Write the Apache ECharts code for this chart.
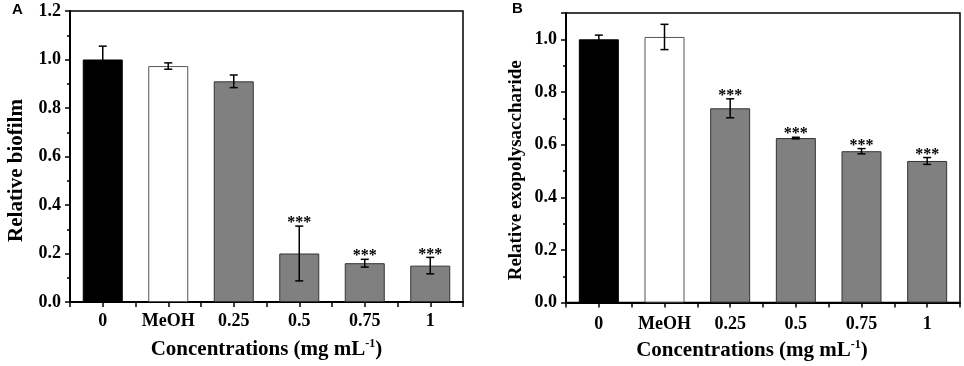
<!DOCTYPE html>
<html>
<head>
<meta charset="utf-8">
<script src="https://cdn.jsdelivr.net/npm/echarts@6/dist/echarts.min.js"></script>
<style>html,body{margin:0;padding:0;background:#fff;}#c{width:964px;height:366px;}</style>
</head>
<body>
<div id="c"></div>
<script>
const categories = ['0', 'MeOH', '0.25', '0.5', '0.75', '1'];
const biofilm = [1.0, 0.973, 0.91, 0.2, 0.16, 0.15];
const biofilmErr = [0.055, 0.013, 0.026, 0.113, 0.016, 0.034];
const biofilmSig = ['', '', '', '***', '***', '***'];
const eps = [1.0, 1.009, 0.738, 0.625, 0.575, 0.538];
const epsErr = [0.016, 0.048, 0.036, 0.003, 0.01, 0.013];
const epsSig = ['', '', '***', '***', '***', '***'];
const yTicksA = [0, 0.2, 0.4, 0.6, 0.8, 1.0, 1.2];
const yTicksB = [0, 0.2, 0.4, 0.6, 0.8, 1.0];

const SERIF = '"Liberation Serif", "Times New Roman", serif';
const barColors = ['#000000', '#ffffff', '#808080', '#808080', '#808080', '#808080'];
const barBorders = ['#000000', '#555555', '#333333', '#333333', '#333333', '#333333'];

function barData(vals) {
  return vals.map((v, i) => ({
    value: v,
    itemStyle: { color: barColors[i], borderColor: barBorders[i], borderWidth: 1 }
  }));
}
function errData(vals, errs) {
  return vals.map((v, i) => [i, v, errs[i]]);
}
function errRender(sigArr) {
  return function (params, api) {
    const i = api.value(0), v = api.value(1), e = api.value(2);
    const sig = sigArr[params.dataIndex];
    const top = api.coord([i, v + e]);
    const bot = api.coord([i, v - e]);
    const cap = 4;
    const st = { stroke: '#000', lineWidth: 1.5 };
    const children = [
      { type: 'line', shape: { x1: top[0], y1: top[1], x2: bot[0], y2: bot[1] }, style: st },
      { type: 'line', shape: { x1: top[0] - cap, y1: top[1], x2: top[0] + cap, y2: top[1] }, style: st },
      { type: 'line', shape: { x1: bot[0] - cap, y1: bot[1], x2: bot[0] + cap, y2: bot[1] }, style: st }
    ];
    if (sig) {
      children.push({ type: 'text', style: { x: top[0], y: top[1] + 5, text: sig, fill: '#000',
        font: 'bold 16px ' + SERIF, align: 'center', verticalAlign: 'bottom' } });
    }
    return { type: 'group', children };
  };
}

function makeX(gridIndex, withLabels, namePadRight, labelMargin, nameGap) {
  return {
    type: 'category', gridIndex, data: categories, position: 'bottom',
    axisLine: { show: withLabels, lineStyle: { color: '#000', width: 2 } },
    axisTick: { show: true, alignWithLabel: withLabels, length: 5, lineStyle: { color: '#000', width: 1.5 } },
    axisLabel: { show: withLabels, interval: 0, color: '#000', fontFamily: SERIF, fontWeight: 'bold', fontSize: 18, margin: labelMargin },
    name: withLabels ? '{a|Concentrations (mg mL}{s|-1}{a|)}' : '',
    nameLocation: 'middle', nameGap: nameGap,
    nameTextStyle: { padding: [0, namePadRight, 0, 0], rich: {
      a: { fontFamily: SERIF, fontWeight: 'bold', fontSize: 21, color: '#000' },
      s: { fontFamily: SERIF, fontWeight: 'bold', fontSize: 12, color: '#000', verticalAlign: 'top', padding: [0, 0, 12, 0] }
    } },
    splitLine: { show: false }
  };
}
function makeY(gridIndex, max, name, gap, fs, padR) {
  return {
    type: 'value', gridIndex, min: 0, max, interval: 0.2,
    axisLine: { show: true, lineStyle: { color: '#000', width: 2 } },
    axisTick: { show: true, length: 5, lineStyle: { color: '#000', width: 1.5 } },
    minorTick: { show: true, splitNumber: 2, length: 3, lineStyle: { color: '#000', width: 1.5 } },
    axisLabel: { color: '#000', fontFamily: SERIF, fontWeight: 'bold', fontSize: 18, margin: 9,
      showMaxLabel: max > 1.15, formatter: v => (v > 1.05 && max < 1.15) ? '' : v.toFixed(1) },
    splitLine: { show: false },
    name, nameLocation: 'middle', nameGap: gap,
    nameTextStyle: { fontFamily: SERIF, fontWeight: 'bold', fontSize: fs, color: '#000', padding: [0, padR, 0, 0] }
  };
}

const chart = echarts.init(document.getElementById('c'), null, { renderer: 'canvas' });
chart.setOption({
  animation: false,
  backgroundColor: '#fff',
  grid: [
    { left: 70, top: 11, width: 393, height: 291, show: true, borderColor: '#000', borderWidth: 1.5, backgroundColor: 'transparent' },
    { left: 566, top: 13, width: 394, height: 293, show: true, borderColor: '#000', borderWidth: 1.5, backgroundColor: 'transparent' }
  ],
  graphic: [
    { type: 'text', left: 12, top: 2, style: { text: 'A', font: 'bold 15px "Liberation Sans", Arial, sans-serif', fill: '#000' } },
    { type: 'text', left: 512, top: 1, style: { text: 'B', font: 'bold 15px "Liberation Sans", Arial, sans-serif', fill: '#000' } }
  ],
  xAxis: [makeX(0, true, 0, 10, 36), makeX(0, false, 0, 10, 36), makeX(1, true, 22, 13, 33), makeX(1, false, 0, 13, 33)],
  yAxis: [makeY(0, 1.2, 'Relative biofilm', 43, 21, 28), makeY(1, 1.1, 'Relative exopolysaccharide', 40, 19, 25)],
  series: [
    { type: 'bar', xAxisIndex: 0, yAxisIndex: 0, barWidth: 40, data: barData(biofilm) },
    { type: 'custom', xAxisIndex: 0, yAxisIndex: 0, z: 5, renderItem: errRender(biofilmSig),
      data: errData(biofilm, biofilmErr) },
    { type: 'bar', xAxisIndex: 2, yAxisIndex: 1, barWidth: 40, data: barData(eps) },
    { type: 'custom', xAxisIndex: 2, yAxisIndex: 1, z: 5, renderItem: errRender(epsSig),
      data: errData(eps, epsErr) }
  ]
});
</script>
</body>
</html>
